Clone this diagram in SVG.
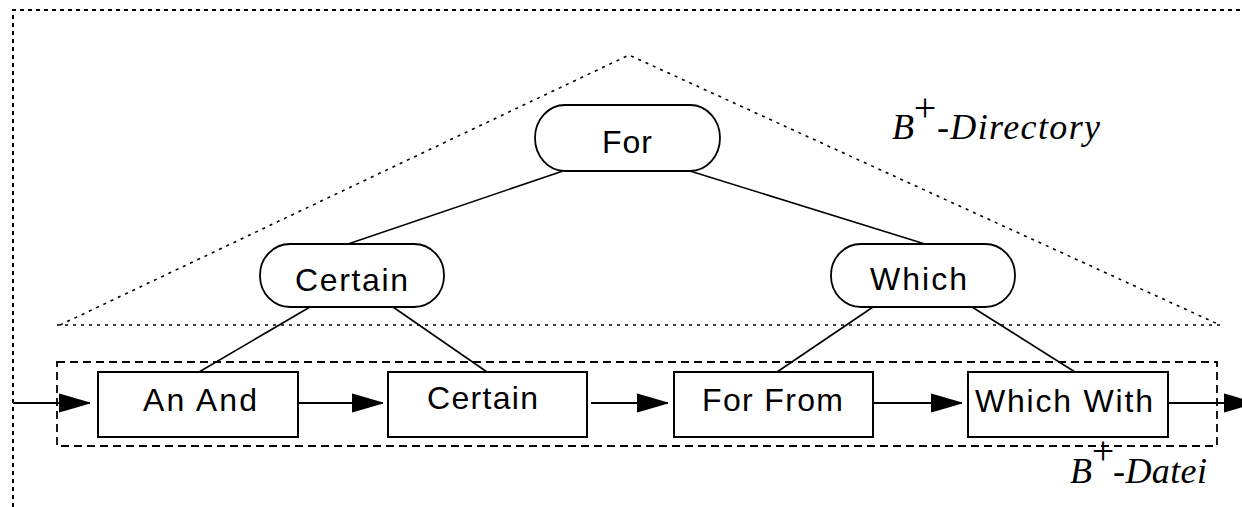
<svg xmlns="http://www.w3.org/2000/svg" width="1242" height="507" viewBox="0 0 1242 507">
<style>
.frame{fill:none;stroke:#000;stroke-width:2;stroke-dasharray:4 4}
.tri{fill:none;stroke:#000;stroke-width:1.6;stroke-dasharray:3 5}
.file{fill:none;stroke:#000;stroke-width:1.8;stroke-dasharray:8 5}
.pill{fill:#fff;stroke:#000;stroke-width:1.8}
.leaf{fill:#fff;stroke:#000;stroke-width:2}
.edge{fill:none;stroke:#000;stroke-width:1.6}
.arr{fill:none;stroke:#000;stroke-width:1.8;marker-end:url(#head)}
.lbl{font-family:"Liberation Sans",Arial,sans-serif;font-size:32px;fill:#000}
.it{font-family:"Liberation Serif","Times New Roman",serif;font-style:italic;font-size:36px;fill:#000}
.sup{font-family:"Liberation Serif","Times New Roman",serif;font-size:40px;fill:#000;text-anchor:middle}
</style>
<defs>
<marker id="head" markerUnits="userSpaceOnUse" markerWidth="32" markerHeight="20" refX="31" refY="9.5" orient="auto" overflow="visible">
<path d="M0,0 L9,2.5 L31,9 L31,10 L9,16.5 L0,19 Z" fill="#000"/>
</marker>
</defs>

<g id="regions">
<path class="frame" d="M13,507 L13,10 L1242,10"/>
<path class="tri" d="M60,325 L629,55 L1220,325"/>
<line class="tri" x1="57" y1="325" x2="1223" y2="325"/>
<rect class="file" x="57" y="362" width="1160" height="84"/>
<text class="it" x="892" y="139">B</text>
<text class="sup" x="925" y="121">+</text>
<text class="it" x="937" y="139" textLength="163">-Directory</text>
<text class="it" x="1070" y="483">B</text>
<text class="sup" x="1103" y="464">+</text>
<text class="it" x="1113" y="483" textLength="94">-Datei</text>
</g>

<g id="connectors">
<line class="edge" x1="563" y1="171" x2="348" y2="244"/>
<line class="edge" x1="690" y1="171" x2="925" y2="244"/>
<line class="edge" x1="310" y1="307" x2="199" y2="372"/>
<line class="edge" x1="393" y1="307" x2="487" y2="372"/>
<line class="edge" x1="873" y1="307" x2="777" y2="372"/>
<line class="edge" x1="972" y1="307" x2="1075" y2="372"/>
<line class="arr" x1="13" y1="403" x2="90" y2="403"/>
<line class="arr" x1="298" y1="403" x2="383" y2="403"/>
<line class="arr" x1="591" y1="403" x2="668" y2="403"/>
<line class="arr" x1="873" y1="403" x2="962" y2="403"/>
<line class="arr" x1="1168" y1="403" x2="1255" y2="403"/>
</g>

<g id="node-for">
<rect class="pill" x="535" y="105" width="185" height="66" rx="30" ry="33"/>
<text class="lbl" x="602" y="153" textLength="50">For</text>
</g>
<g id="node-certain">
<rect class="pill" x="260" y="244" width="184" height="63" rx="30" ry="31"/>
<text class="lbl" x="295" y="291" textLength="113">Certain</text>
</g>
<g id="node-which">
<rect class="pill" x="831" y="244" width="184" height="63" rx="30" ry="31"/>
<text class="lbl" x="870" y="290" textLength="97">Which</text>
</g>
<g id="leaf-anand">
<rect class="leaf" x="98" y="372" width="200" height="65"/>
<text class="lbl" x="143" y="411" textLength="114">An And</text>
</g>
<g id="leaf-certain">
<rect class="leaf" x="388" y="372" width="199" height="65"/>
<text class="lbl" x="427" y="409" textLength="111">Certain</text>
</g>
<g id="leaf-forfrom">
<rect class="leaf" x="674" y="372" width="199" height="65"/>
<text class="lbl" x="702" y="411" textLength="141">For From</text>
</g>
<g id="leaf-whichwith">
<rect class="leaf" x="968" y="372" width="200" height="65"/>
<text class="lbl" x="975" y="412" textLength="178">Which With</text>
</g>
</svg>
